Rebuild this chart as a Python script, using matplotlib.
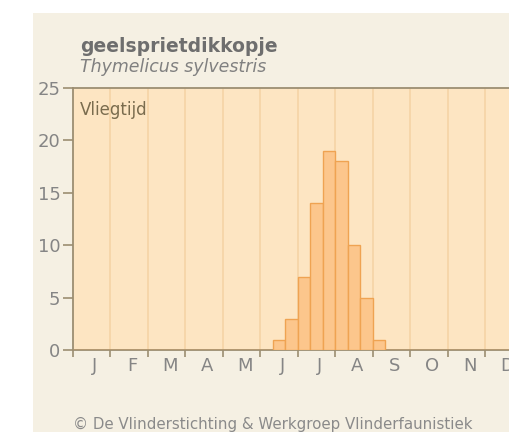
import numpy as np
import matplotlib
matplotlib.use('Agg')
import matplotlib.pyplot as plt
from matplotlib.patches import Rectangle

# flight period per decade (3 per month), Jan..Dec
months = ['J', 'F', 'M', 'A', 'M', 'J', 'J', 'A', 'S', 'O', 'N', 'D']
counts = [0, 0, 0, 0, 0, 0, 0, 0, 0, 0, 0, 0,
          0, 0, 0, 0, 1, 3, 7, 14, 19, 18, 10, 5,
          1, 0, 0, 0, 0, 0, 0, 0, 0, 0, 0, 0]
yticks = [0, 5, 10, 15, 20, 25]

title = 'geelsprietdikkopje'
subtitle = 'Thymelicus sylvestris'
label = 'Vliegtijd'
footer = '\u00a9 De Vlinderstichting & Werkgroep Vlinderfaunistiek'

W, H = 509, 432
fig = plt.figure(figsize=(W / 100, H / 100), dpi=100)
fig.patch.set_facecolor('white')

# beige panel behind everything
fig.patches.append(Rectangle((33 / W, 0), 1 - 33 / W, (H - 13) / H,
                             transform=fig.transFigure, facecolor='#f5f0e3',
                             edgecolor='none', zorder=-1))

ax = fig.add_axes([73 / W, (H - 350) / H, 450 / W, (350 - 88) / H])
ax.set_zorder(1)
ax.set_facecolor('#fde5c2')

x = np.arange(len(counts)) / 3.0
ax.bar(x, counts, width=1 / 3, align='edge', color='#fcc68c',
       edgecolor='#efa352', linewidth=1.0, zorder=3)

# faint month separators
for m in range(1, 12):
    ax.axvline(m, color='#f5d3a6', linewidth=1.2, zorder=1)

ax.set_xlim(0, 12)
ax.set_ylim(0, 25)

spine_c = '#9c8e72'
for s in ['left', 'bottom', 'top']:
    ax.spines[s].set_color(spine_c)
    ax.spines[s].set_linewidth(1.3)
ax.spines['right'].set_visible(False)

ax.set_yticks(yticks)
ax.set_yticklabels([str(v) for v in yticks])
ax.set_xticks(np.arange(0, 12))
ax.set_xticklabels([])
ax.set_xticks(np.arange(12) + 0.58, minor=True)
ax.set_xticklabels(months, minor=True)
ax.tick_params(axis='x', which='major', length=5, width=1.2, color=spine_c, direction='out')
ax.tick_params(axis='x', which='minor', length=0, pad=5, labelsize=13, labelcolor='#858585')
ax.tick_params(axis='y', length=7, width=1.2, color=spine_c, direction='out',
               labelsize=13, labelcolor='#858585', pad=2)

ax.text(0.19, 22.9, label, fontsize=12, color='#7a6c4e', va='center', ha='left', zorder=4)

fig.text(80 / W, (H - 52) / H, title, fontsize=13.5, fontweight='bold',
         color='#6e6e6e', ha='left', va='baseline')
fig.text(80 / W, (H - 72) / H, subtitle, fontsize=12.5, style='italic',
         color='#808080', ha='left', va='baseline')
fig.text(73 / W, 0 / H, footer, fontsize=10.8, color='#8a8a8a',
         ha='left', va='bottom')

fig.savefig('out.png', dpi=100)
